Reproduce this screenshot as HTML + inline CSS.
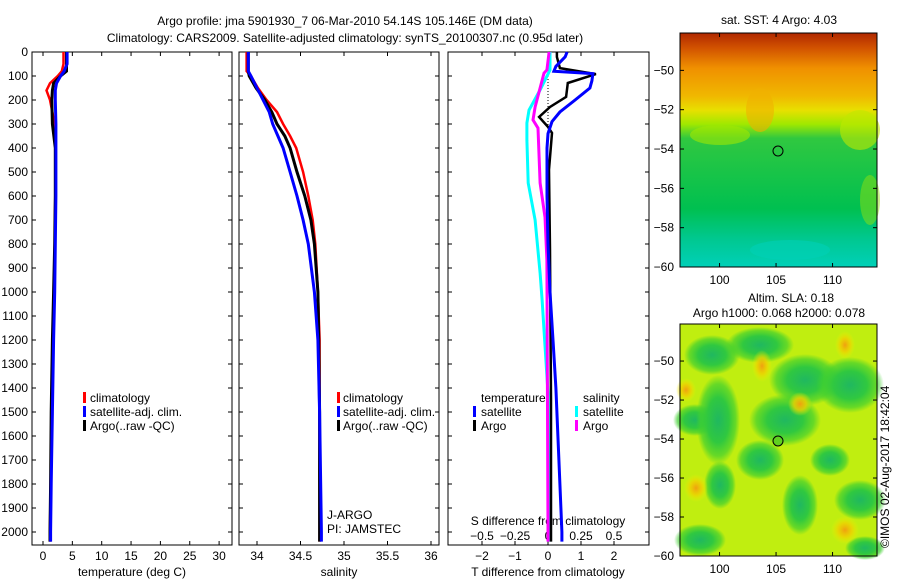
<!DOCTYPE html>
<html><head><meta charset="utf-8"><style>
body{margin:0;background:#fff}
svg{display:block;font-family:"Liberation Sans",sans-serif}
text{font-size:12px;fill:#000}
</style></head><body>
<svg id="c" width="900" height="580" viewBox="0 0 900 580">
<defs>
<linearGradient id="sstg" x1="0" y1="0" x2="0" y2="1">
<stop offset="0" stop-color="#b02800"/><stop offset="0.06" stop-color="#d05000"/><stop offset="0.15" stop-color="#f09000"/><stop offset="0.27" stop-color="#f0b800"/><stop offset="0.33" stop-color="#e8e000"/><stop offset="0.39" stop-color="#a0e800"/><stop offset="0.45" stop-color="#30c840"/><stop offset="0.75" stop-color="#00c050"/><stop offset="0.88" stop-color="#00c890"/><stop offset="1" stop-color="#00d0b8"/>
</linearGradient>
<radialGradient id="gb"><stop offset="0" stop-color="#20b860"/><stop offset="0.5" stop-color="#30c840"/><stop offset="0.8" stop-color="#40d030" stop-opacity="0.7"/><stop offset="1" stop-color="#40d030" stop-opacity="0"/></radialGradient>
<radialGradient id="ob"><stop offset="0" stop-color="#f0a010"/><stop offset="0.5" stop-color="#f0d000" stop-opacity="0.8"/><stop offset="1" stop-color="#f0f000" stop-opacity="0"/></radialGradient>
</defs>
<g>
<text x="345" y="25" text-anchor="middle" font-size="13">Argo profile: jma 5901930_7 06-Mar-2010 54.14S 105.146E (DM data)</text>
<text x="345" y="42" text-anchor="middle" font-size="13">Climatology: CARS2009. Satellite-adjusted climatology: synTS_20100307.nc (0.95d later)</text>
</g>
<g id="plots"></g>

<g>
<text x="779" y="24" text-anchor="middle">sat. SST: 4 Argo: 4.03</text>
<rect x="680" y="33" width="197" height="234" fill="url(#sstg)"/>
<ellipse cx="860" cy="130" rx="20" ry="20" fill="#c0e800" opacity="0.6"/>
<ellipse cx="870" cy="200" rx="10" ry="25" fill="#90e010" opacity="0.5"/>
<ellipse cx="760" cy="110" rx="14" ry="22" fill="#f0b000" opacity="0.6"/>
<ellipse cx="720" cy="135" rx="30" ry="10" fill="#a0e800" opacity="0.6"/>
<ellipse cx="790" cy="250" rx="40" ry="10" fill="#00d0b8" opacity="0.6"/>
<circle cx="778" cy="151" r="5" fill="none" stroke="#000" stroke-width="1"/>
<rect x="680" y="33" width="197" height="234" fill="none" stroke="#000"/>
</g>
<g>
<text x="748" y="302">Altim. SLA: 0.18</text>
<text x="779" y="317" text-anchor="middle">Argo h1000: 0.068 h2000: 0.078</text>
<rect x="680" y="324" width="197" height="232" fill="#c0ee10"/>
<ellipse cx="712" cy="355" rx="28" ry="20" fill="url(#gb)"/>
<ellipse cx="695" cy="420" rx="22" ry="16" fill="url(#gb)"/>
<ellipse cx="718" cy="420" rx="22" ry="45" fill="url(#gb)"/>
<ellipse cx="785" cy="420" rx="36" ry="26" fill="url(#gb)"/>
<ellipse cx="805" cy="380" rx="36" ry="26" fill="url(#gb)"/>
<ellipse cx="850" cy="385" rx="34" ry="28" fill="url(#gb)"/>
<ellipse cx="760" cy="345" rx="34" ry="18" fill="url(#gb)"/>
<ellipse cx="760" cy="460" rx="24" ry="20" fill="url(#gb)"/>
<ellipse cx="720" cy="485" rx="16" ry="24" fill="url(#gb)"/>
<ellipse cx="800" cy="505" rx="18" ry="30" fill="url(#gb)"/>
<ellipse cx="860" cy="500" rx="26" ry="20" fill="url(#gb)"/>
<ellipse cx="700" cy="540" rx="26" ry="16" fill="url(#gb)"/>
<ellipse cx="865" cy="548" rx="20" ry="12" fill="url(#gb)"/>
<ellipse cx="830" cy="460" rx="20" ry="16" fill="url(#gb)"/>
<ellipse cx="762" cy="366" rx="10" ry="16" fill="url(#ob)"/>
<ellipse cx="686" cy="390" rx="10" ry="12" fill="url(#ob)"/>
<ellipse cx="696" cy="488" rx="12" ry="14" fill="url(#ob)"/>
<ellipse cx="800" cy="404" rx="12" ry="12" fill="url(#ob)"/>
<ellipse cx="845" cy="345" rx="10" ry="14" fill="url(#ob)"/>
<ellipse cx="845" cy="530" rx="14" ry="14" fill="url(#ob)"/>
<circle cx="778" cy="441" r="5" fill="#60d020" stroke="#000" stroke-width="1"/>
<rect x="680" y="324" width="197" height="232" fill="none" stroke="#000"/>
</g>
<text transform="translate(889,548) rotate(-90)">©IMOS 02-Aug-2017 18:42:04</text>
</svg>
<script>
// temperature profiles
const tDepth=[0,50,80,100,130,160,200,300,400,600,800,1000,1200,1500,1800,2000,2040];
const tClim=[3.5,3.5,3.2,2.5,1.2,0.6,1.2,2.0,2.1,2.1,2.0,1.9,1.7,1.5,1.3,1.2,1.2];
const tArgo=[4.0,4.0,4.0,3.0,1.8,1.6,1.5,1.6,2.1,2.1,2.0,1.8,1.6,1.4,1.3,1.2,1.2];
const tSat=[4.1,4.1,3.6,3.0,2.3,2.1,2.1,2.2,2.2,2.2,2.1,2.0,1.8,1.6,1.4,1.3,1.3];
// salinity profiles
const sDepth=[0,80,100,150,200,250,300,350,400,500,600,700,800,1000,1200,1500,2000,2040];
const sClim=[33.88,33.88,33.93,34.01,34.11,34.23,34.30,34.38,34.45,34.53,34.59,34.64,34.67,34.70,34.72,34.72,34.72,34.72];
const sArgo=[33.90,33.90,33.91,33.99,34.09,34.17,34.23,34.32,34.38,34.46,34.55,34.62,34.66,34.70,34.71,34.72,34.72,34.72];
const sSat=[33.90,33.90,33.93,34.00,34.07,34.14,34.18,34.24,34.30,34.38,34.46,34.53,34.59,34.66,34.70,34.72,34.74,34.74];
// differences
const dTSatDepth=[0,20,60,80,90,120,150,200,250,290,340,400,600,800,1000,1200,1400,1600,1800,2000,2040];
const dTSat=[0.58,0.52,0.24,0.18,1.36,1.33,1.27,0.82,0.36,0.12,0,-0.03,-0.03,0,0.06,0.15,0.24,0.30,0.36,0.42,0.42];
const dTArgoDepth=[0,21,67,92,129,187,229,271,312,337,490,825,1450,1990,2040];
const dTArgo=[0.27,0.27,0.36,1.45,0.6,0.55,0.06,-0.27,0,0.12,0.03,0.06,0.09,0.09,0.09];
const dSArgoDepth=[0,75,88,229,283,317,546,688,867,1990,2040];
const dSArgo=[0.008,-0.008,-0.03,-0.098,-0.114,-0.076,-0.06,-0.023,-0.008,0,0];
const dSSatDepth=[0,75,158,242,296,367,546,700,921,1033,1421,1990,2040];
const dSSat=[0.015,0.015,-0.06,-0.144,-0.16,-0.16,-0.15,-0.098,-0.06,-0.045,0,0.008,0.008];
const depthTicks=[0,100,200,300,400,500,600,700,800,900,1000,1100,1200,1300,1400,1500,1600,1700,1800,1900,2000];
const tTicks=[0,5,10,15,20,25,30];
const sTicks=[34,34.5,35,35.5,36];
const dTTicks=[-2,-1,0,1,2];
const dSTicks=[-0.5,-0.25,0,0.25,0.5];
const latTicks=[-50,-52,-54,-56,-58,-60];
const lonTicks=[100,105,110];

const NS='http://www.w3.org/2000/svg';
const g=document.getElementById('plots');
const svg=document.getElementById('c');
function el(t,a,p){const e=document.createElementNS(NS,t);for(const k in a)e.setAttribute(k,a[k]);(p||g).appendChild(e);return e;}
const top0=52,bot=545;
const y=d=>top0+d*0.24;
const xT=v=>43+v*5.87;
const xS=v=>257+(v-34)*87;
const xdT=v=>548+v*33;
const xdS=v=>548+v*132;

function panel(x0,x1,name){
 const r=el('rect',{x:x0,y:top0,width:x1-x0,height:bot-top0,fill:'none',stroke:'#000','stroke-width':1});
 
 
 depthTicks.forEach(d=>{
  const t1=el('line',{x1:x0,x2:x0+4,y1:y(d),y2:y(d),stroke:'#000'});
  
  
  const t2=el('line',{x1:x1-4,x2:x1,y1:y(d),y2:y(d),stroke:'#000'});
  
  
 });
}
function xticks(vals,f,ty,lab){
 vals.forEach(v=>{
  const x=f(v);
  const a=el('line',{x1:x,x2:x,y1:bot-4,y2:bot,stroke:'#000'});
  
  
  const b=el('line',{x1:x,x2:x,y1:top0,y2:top0+4,stroke:'#000'});
  
  
  if(lab){const t=el('text',{x:x,y:ty,'text-anchor':'middle'});t.textContent=String(v).replace('-','\u2212');
  
  }
 });
}
function line(ds,vs,f,col,w,name){
 const pts=ds.map((d,i)=>f(vs[i]).toFixed(1)+','+y(d).toFixed(1)).join(' ');
 const p=el('polyline',{points:pts,fill:'none',stroke:col,'stroke-width':w,'stroke-linejoin':'miter'});
 
 
}
function txt(x,yy,s,name,anchor){const t=el('text',{x:x,y:yy,'text-anchor':anchor||'start'});t.textContent=s;
 
 return t;}
function legendBar(x,yy,col,name){const r=el('rect',{x:x,y:yy-10,width:3,height:11,fill:col});
 
 }

// panel 1
panel(32,232,'temperature-panel');
depthTicks.forEach(d=>{const t=el('text',{x:28,y:y(d)+4,'text-anchor':'end'});t.textContent=d;
 
 });
xticks(tTicks,xT,560,true);
txt(132,576,'temperature (deg C)','temperature-axis-title','middle');
line(tDepth,tClim,xT,'#f00',2.5,'temp-climatology-line');
line(tDepth,tArgo,xT,'#000',3,'temp-argo-line');
line(tDepth,tSat,xT,'#00f',3,'temp-satellite-line');
[['climatology','#f00'],['satellite-adj. clim.','#00f'],['Argo(..raw -QC)','#000']].forEach((e,i)=>{
 legendBar(83,402+i*14,e[1],'legend-marker');txt(90,402+i*14,e[0],'legend-entry');});

// panel 2
panel(239,439,'salinity-panel');
xticks(sTicks,xS,560,true);
txt(339,576,'salinity','salinity-axis-title','middle');
line(sDepth,sClim,xS,'#f00',2.5,'sal-climatology-line');
line(sDepth,sArgo,xS,'#000',3,'sal-argo-line');
line(sDepth,sSat,xS,'#00f',3,'sal-satellite-line');
[['climatology','#f00'],['satellite-adj. clim.','#00f'],['Argo(..raw -QC)','#000']].forEach((e,i)=>{
 legendBar(337,402+i*14,e[1],'legend-marker');txt(343,402+i*14,e[0],'legend-entry');});
txt(327,519,'J-ARGO','float-agency-label');
txt(327,533,'PI: JAMSTEC','pi-label');

// panel 3
panel(448,649,'difference-panel');
xticks(dTTicks,xdT,560,true);
dSTicks.forEach(v=>{const t=el('text',{x:xdS(v),y:540,'text-anchor':'middle'});t.textContent=String(v).replace('-','\u2212');
 
 });
txt(548,525,'S difference from climatology','s-diff-axis-title','middle');
txt(548,576,'T difference from climatology','t-diff-axis-title','middle');
const dl=el('line',{x1:548,x2:548,y1:top0,y2:300,stroke:'#000','stroke-dasharray':'1,2'});


line(dSSatDepth,dSSat,xdS,'#0ff',3,'sdiff-satellite-line');
line(dSArgoDepth,dSArgo,xdS,'#f0f',3,'sdiff-argo-line');
line(dTArgoDepth,dTArgo,xdT,'#000',2.5,'tdiff-argo-line');
line(dTSatDepth,dTSat,xdT,'#00f',3,'tdiff-satellite-line');
txt(481,402,'temperature','legend-title');
txt(583,402,'salinity','legend-title');
legendBar(473,416,'#00f','legend-marker');txt(481,416,'satellite','legend-entry');
legendBar(473,430,'#000','legend-marker');txt(481,430,'Argo','legend-entry');
legendBar(575,416,'#0ff','legend-marker');txt(583,416,'satellite','legend-entry');
legendBar(575,430,'#f0f','legend-marker');txt(583,430,'Argo','legend-entry');

// map axes
function mapAxes(yt,yb,labY){
 const lat=v=>yt+( -48.1 - v)*((yb-yt)/11.9);
 const lon=v=>680+(v-96.5)*11.3;
 latTicks.forEach(v=>{const yy=lat(v);
  const a=el('line',{x1:680,x2:684,y1:yy,y2:yy,stroke:'#000'},svg);
  
  
  const b=el('line',{x1:873,x2:877,y1:yy,y2:yy,stroke:'#000'},svg);
  
  
  const t=el('text',{x:674,y:yy+4,'text-anchor':'end'},svg);t.textContent=String(v).replace('-','\u2212');
  
  });
 lonTicks.forEach(v=>{const xx=lon(v);
  const a=el('line',{x1:xx,x2:xx,y1:yb-4,y2:yb,stroke:'#000'},svg);
  
  
  const b=el('line',{x1:xx,x2:xx,y1:yt,y2:yt+4,stroke:'#000'},svg);
  
  
  const t=el('text',{x:xx,y:labY,'text-anchor':'middle'},svg);t.textContent=v;
  
  });
}
mapAxes(33,267,284);
mapAxes(324,556,573);
</script>
</body></html>
